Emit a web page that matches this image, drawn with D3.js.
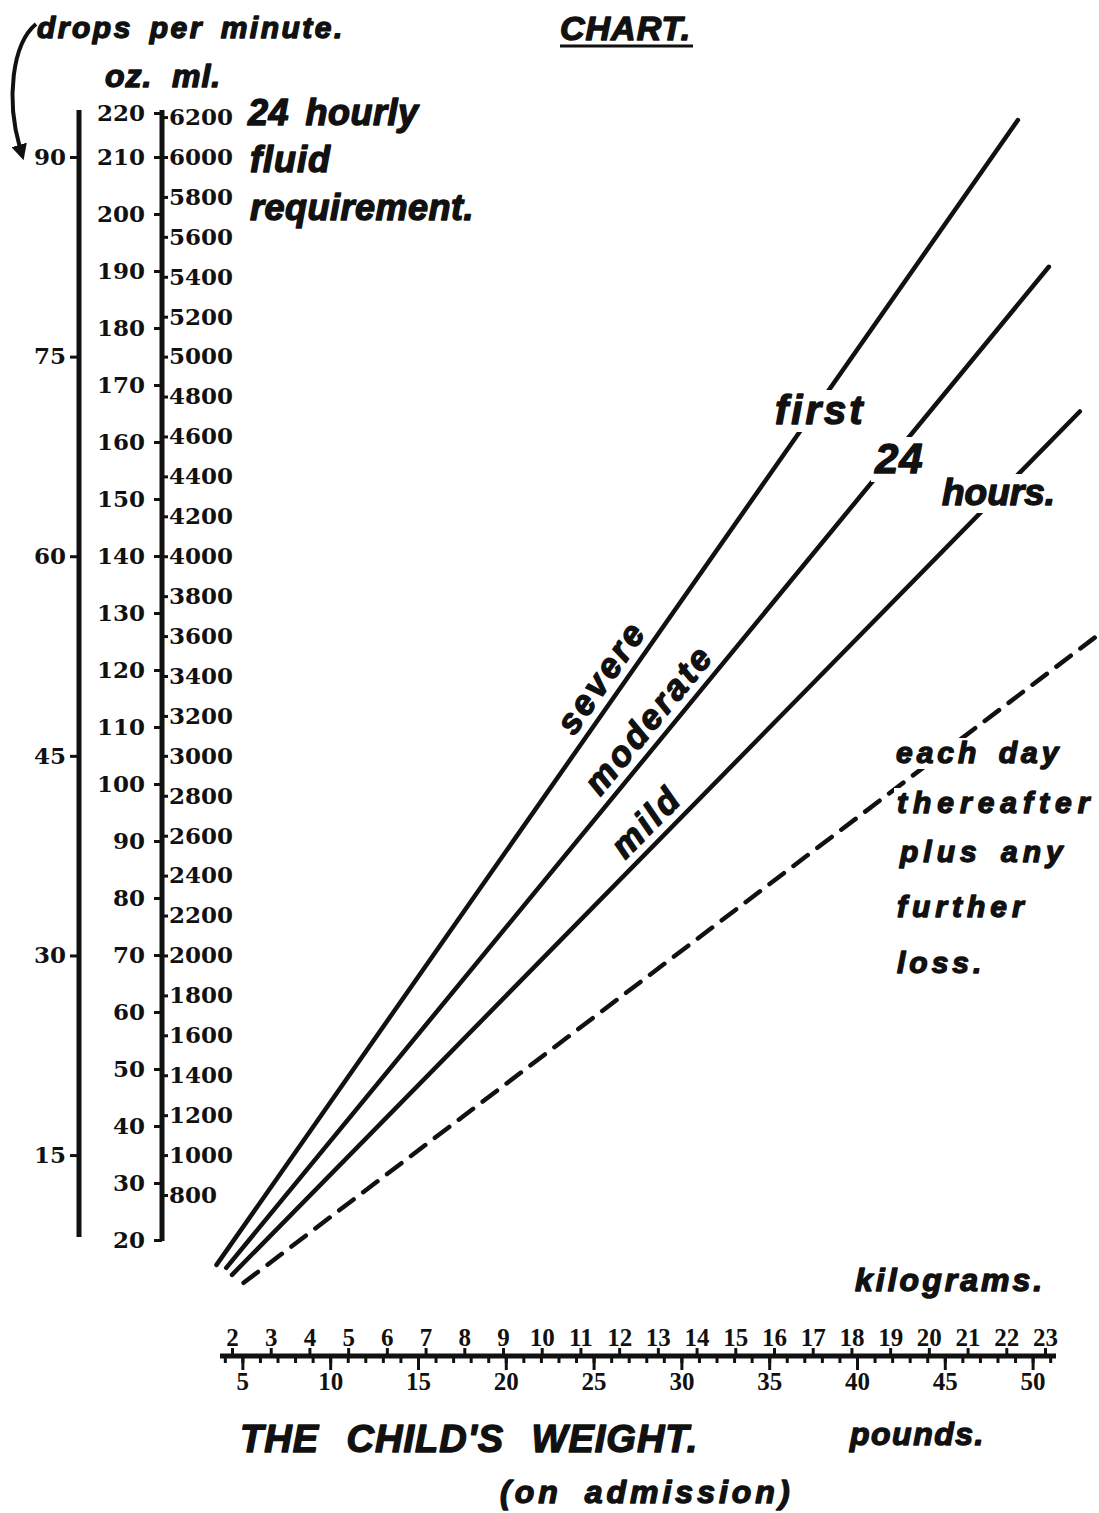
<!DOCTYPE html>
<html>
<head>
<meta charset="utf-8">
<script src="https://cdn.jsdelivr.net/npm/d3@7"></script>
<style>
  body { margin: 0; background: #fff; }
  svg { display: block; background: #fff; }
  .num text { font-family: "DejaVu Serif", serif; font-weight: bold; font-size: 23px; fill: #111; }
  .xnum text { font-family: "Liberation Serif", serif; font-weight: bold; font-size: 25px; fill: #111; }
  .hd { font-family: "Liberation Sans", Arial, sans-serif; font-weight: bold; font-style: italic; fill: #111; stroke: #111; stroke-width: 1.4px; stroke-linejoin: round; }
</style>
</head>
<body>
<svg id="chart" width="1099" height="1513"></svg>
<script>
// ---------- data ----------
// drops per minute (left scale)
const dropTicks = [15, 30, 45, 60, 75, 90];
// fluid in fluid ounces
const ozTicks = [20, 30, 40, 50, 60, 70, 80, 90, 100, 110, 120, 130, 140, 150, 160, 170, 180, 190, 200, 210, 220];
// fluid in millilitres
const mlTicks = [800, 1000, 1200, 1400, 1600, 1800, 2000, 2200, 2400, 2600, 2800, 3000, 3200, 3400, 3600,
                 3800, 4000, 4200, 4400, 4600, 4800, 5000, 5200, 5400, 5600, 5800, 6000, 6200];
// weight
const kgTicks = [2, 3, 4, 5, 6, 7, 8, 9, 10, 11, 12, 13, 14, 15, 16, 17, 18, 19, 20, 21, 22, 23];
const lbTicks = [5, 10, 15, 20, 25, 30, 35, 40, 45, 50];

// the four lines: weight (kg) -> 24 hourly fluid (ml)
const lineNames = ["severe", "moderate", "mild", "each day thereafter"];
const startKg = [1.6, 1.85, 2.0, 2.3];
const startMl = [450, 435, 400, 360];
const endKg = [22.3, 23.1, 23.9, 24.3];
const endMl = [6185, 5450, 4725, 3595];

const LB_PER_KG = 2.2046;

// ---------- layout ----------
const svg = d3.select("#chart");
const dropsX = 79, fluidX = 162, axisY = 1356;
const fmt = d3.format("d");

//y scales, all tied to ml
let yMl = d3.scaleLinear().domain([800, 6000]).range([1195, 157]);
let yOz = d3.scaleLinear().domain([20, 210, 220]).range([1240, 157, 113]);
let yDrops = d3.scaleLinear().domain([15, 90]).range([yMl(1000), yMl(6000)]);

//x scales, kg and pounds
let xKg = d3.scaleLinear().domain([2, 23]).range([232, 1045]);
let xLb = d3.scaleLinear().domain([2 * LB_PER_KG, 23 * LB_PER_KG]).range(xKg.range());

// ---------- vertical scales ----------
function styleAxis(g, w) {
    g.select(".domain").remove();
    g.selectAll(".tick line").attr("stroke", "#111").attr("stroke-width", w);
}

svg.append("line")
    .attr("x1", dropsX).attr("x2", dropsX)
    .attr("y1", yOz(220) - 3).attr("y2", 1237)
    .attr("stroke", "#111").attr("stroke-width", 5);
svg.append("line")
    .attr("x1", fluidX).attr("x2", fluidX)
    .attr("y1", yOz(220) - 3).attr("y2", yOz(20) + 1)
    .attr("stroke", "#111").attr("stroke-width", 5);

svg.append("g").attr("class", "num")
    .attr("transform", "translate(" + dropsX + ",0)")
    .call(d3.axisLeft(yDrops).tickValues(dropTicks).tickFormat(fmt).tickSize(9).tickPadding(4))
    .call(g => styleAxis(g, 3));

svg.append("g").attr("class", "num")
    .attr("transform", "translate(" + fluidX + ",0)")
    .call(d3.axisLeft(yOz).tickValues(ozTicks).tickFormat(fmt).tickSize(8).tickPadding(9))
    .call(g => styleAxis(g, 3));

svg.append("g").attr("class", "num")
    .attr("transform", "translate(" + fluidX + ",0)")
    .call(d3.axisRight(yMl).tickValues(mlTicks).tickFormat(fmt).tickSize(6).tickPadding(1))
    .call(g => styleAxis(g, 3));

// ---------- weight scale ----------
svg.append("line")
    .attr("x1", 220).attr("x2", 1056)
    .attr("y1", axisY).attr("y2", axisY)
    .attr("stroke", "#111").attr("stroke-width", 5);

svg.append("g").attr("class", "xnum")
    .attr("transform", "translate(0," + axisY + ")")
    .call(d3.axisTop(xKg).tickValues(kgTicks).tickFormat(fmt).tickSize(8).tickPadding(2))
    .call(g => styleAxis(g, 3));

// small pound ticks every pound
svg.append("g")
    .attr("transform", "translate(0," + axisY + ")")
    .call(d3.axisBottom(xLb).tickValues(d3.range(4, 52)).tickSize(7).tickFormat(""))
    .call(g => styleAxis(g, 3));

svg.append("g").attr("class", "xnum")
    .attr("transform", "translate(0," + axisY + ")")
    .call(d3.axisBottom(xLb).tickValues(lbTicks).tickFormat(fmt).tickSize(14).tickPadding(2))
    .call(g => styleAxis(g, 3));

// ---------- the lines ----------
let lineData = lineNames.map((name, i) => ({
    name: name,
    pts: [[startKg[i], startMl[i]], [endKg[i], endMl[i]]]
}));
let line = d3.line().x(d => xKg(d[0])).y(d => yMl(d[1]));

svg.selectAll(".rate")
    .data(lineData).enter()
    .append("path")
    .attr("class", "rate")
    .attr("d", d => line(d.pts))
    .attr("fill", "none")
    .attr("stroke", "#111")
    .attr("stroke-width", 4.5)
    .attr("stroke-linecap", "round")
    .attr("stroke-dasharray", (d, i) => i === 3 ? "18,12" : null);

// severity labels sit along their lines
const labelAt = [12.0, 13.2, 13.1];
lineData.slice(0, 3).forEach((d, i) => {
    let p0 = d.pts[0], p1 = d.pts[1];
    let ang = Math.atan2(yMl(p1[1]) - yMl(p0[1]), xKg(p1[0]) - xKg(p0[0])) * 180 / Math.PI;
    let t = (labelAt[i] - p0[0]) / (p1[0] - p0[0]);
    let ml = p0[1] + t * (p1[1] - p0[1]);
    svg.append("text")
        .attr("class", "hd")
        .attr("transform", "translate(" + xKg(labelAt[i]) + "," + yMl(ml) + ") rotate(" + ang + ")")
        .attr("y", -10)
        .attr("text-anchor", "middle")
        .style("font-size", "35px")
        .style("letter-spacing", "3px")
        .text(d.name);
});

// ---------- text ----------
function label(txt, x, y, size, spacing, halo) {
    let t = svg.append("text").attr("class", "hd")
        .attr("x", x).attr("y", y)
        .style("font-size", size + "px").style("letter-spacing", spacing + "px")
        .style("word-spacing", "6px")
        .text(txt);
    if (halo) {
        // white box behind the words so the lines break around them
        let b = t.node().getBBox();
        svg.insert("rect", function () { return t.node(); })
            .attr("x", b.x - 3).attr("y", b.y + 2)
            .attr("width", b.width + 6).attr("height", b.height - 2)
            .attr("fill", "#fff");
    }
    return t;
}

label("drops per minute.", 37, 38, 30, 2.5);
label("CHART.", 560, 40, 34, 1);
svg.append("line").attr("x1", 560).attr("x2", 693).attr("y1", 46).attr("y2", 46)
    .attr("stroke", "#111").attr("stroke-width", 3);
label("oz.", 105, 87, 32, 1);
label("ml.", 172, 87, 32, 1);
label("24 hourly", 248, 125, 36, 0.5);
label("fluid", 250, 172, 36, 1);
label("requirement.", 250, 220, 36, 0.5);

label("first", 775, 424, 40, 3, true);
label("24", 875, 473, 42, 1, true);
label("hours.", 942, 505, 37, 0, true);

label("each day", 896, 763, 30, 4, true);
label("thereafter", 897, 813, 30, 6, true);
label("plus any", 900, 862, 30, 5);
label("further", 897, 917, 30, 5);
label("loss.", 897, 973, 30, 4);

label("kilograms.", 855, 1291, 32, 3);
label("THE CHILD'S WEIGHT.", 240, 1452, 38, 1).style("word-spacing", "16px");
label("pounds.", 850, 1445, 32, 1.5);
label("(on admission)", 500, 1503, 32, 4).style("word-spacing", "10px");

// curved arrow from the header down to the drops scale
svg.append("defs").append("marker")
    .attr("id", "head")
    .attr("viewBox", "0 0 10 10")
    .attr("refX", 2).attr("refY", 5)
    .attr("markerWidth", 4).attr("markerHeight", 4)
    .attr("orient", "auto")
    .append("path").attr("d", "M0,0 L10,5 L0,10 z").attr("fill", "#111");

svg.append("path")
    .attr("d", "M36,24 C12,44 6,100 20,148")
    .attr("fill", "none")
    .attr("stroke", "#111")
    .attr("stroke-width", 4)
    .attr("marker-end", "url(#head)");
</script>
</body>
</html>
